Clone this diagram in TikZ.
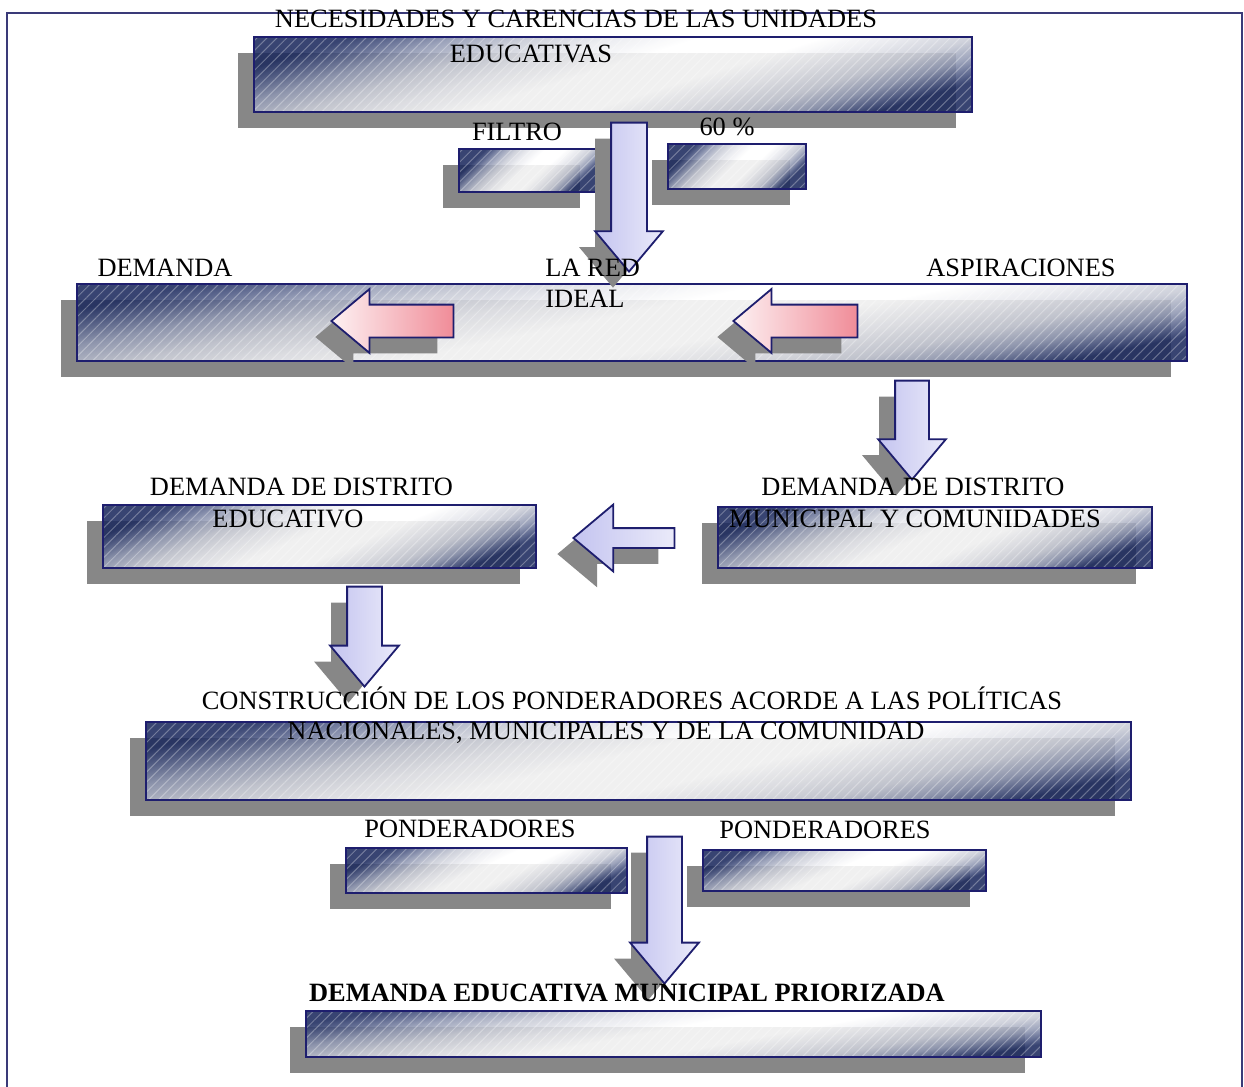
\documentclass[tikz,border=0pt]{standalone}
\usepackage{fontspec}
\setmainfont{Liberation Serif}
\usepackage{tikz}
\usetikzlibrary{shapes.arrows, shadows, patterns.meta, positioning}
\definecolor{boxnavy}{HTML}{1C2A5E}
\definecolor{boxdark}{HTML}{4A5682}
\definecolor{boxmid}{HTML}{8F97B2}
\definecolor{boxlight}{HTML}{C8CBD6}
\definecolor{boxpale}{HTML}{E8E9EE}
\definecolor{boxline}{HTML}{1E1E6E}
\definecolor{framecol}{HTML}{3A3A78}
\definecolor{shadowgray}{HTML}{878787}
\definecolor{arrowlav}{HTML}{C4C4F0}
\definecolor{arrowpink}{HTML}{F08C98}
\pgfdeclarehorizontalshading{boxfill}{100bp}{color(0bp)=(boxnavy); color(25bp)=(boxnavy); color(28bp)=(boxdark); color(32bp)=(boxmid); color(37bp)=(boxlight); color(42bp)=(boxpale); color(48bp)=(white); color(56bp)=(white); color(61bp)=(boxpale); color(66bp)=(boxlight); color(70bp)=(boxmid); color(73bp)=(boxdark); color(75bp)=(boxnavy); color(100bp)=(boxnavy)}
\tikzstyle{shadowed} = [drop shadow={shadow xshift=-8pt, shadow yshift=-8pt, fill=shadowgray, opacity=1}]

\begin{document}
\begin{tikzpicture}[x=0.5pt, y=-0.5pt]
	% Define styles for the boxes, the block arrows and the labels
	\tikzstyle{bar} = [rectangle, shadowed, draw=boxline, line width=1pt, inner sep=0pt, shading=boxfill, fill opacity=0.88, postaction={pattern={Lines[angle=45, distance=3.5pt, line width=0.5pt]}, pattern color=white, opacity=0.3}, postaction={draw=boxline, line width=1pt}]
	\tikzstyle{blockarrow} = [single arrow, shadowed, draw=boxline, line width=0.9pt, single arrow tip angle=80]
	\tikzstyle{bluearrow} = [blockarrow, left color=arrowlav, middle color=white, right color=arrowlav!35!white]
	\tikzstyle{redarrow} = [blockarrow, left color=arrowpink!12!white, middle color=white, right color=arrowpink]
	\tikzstyle{lbl} = [inner sep=0pt, anchor=base, font=\fontsize{13.2}{15.5}\selectfont]
	
	\useasboundingbox (0,0) rectangle (1244,1087);
	
	% Frame
	\draw[framecol, line width=1pt] (7,1100) -- (7,13) -- (1242,13) -- (1242,1100);
	
	% Boxes
	\node[bar, minimum width=359pt, minimum height=37.5pt, shading angle=-72.6] (necesidades) at (613,74.5) {};
	\node[bar, minimum width=68.5pt, minimum height=21.5pt, shading angle=-46.7] (filtro) at (527.5,170.5) {};
	\node[bar, minimum width=69pt, minimum height=22.5pt, shading angle=-45.6] (porcentaje) at (737,166.5) {};
	\node[bar, minimum width=555pt, minimum height=38.5pt, shading angle=-78.2] (redideal) at (632,322.5) {};
	\node[bar, minimum width=216.5pt, minimum height=31.5pt, shading angle=-66.4] (distedu) at (319.5,536.5) {};
	\node[bar, minimum width=217pt, minimum height=30.5pt, shading angle=-67.1] (distmun) at (935,537.5) {};
	\node[bar, minimum width=492.5pt, minimum height=39pt, shading angle=-76.6] (construccion) at (638.5,761) {};
	\node[bar, minimum width=140.5pt, minimum height=22.5pt, shading angle=-64.3] (pondizq) at (486.5,870.5) {};
	\node[bar, minimum width=141.5pt, minimum height=20.5pt, shading angle=-66.5] (ponder) at (844.5,870.5) {};
	\node[bar, minimum width=367.5pt, minimum height=23pt, shading angle=-79.4] (priorizada) at (673.5,1034) {};
	
	% Block arrows
	\node[bluearrow, shape border rotate=270, minimum height=74.5pt, inner sep=8.5pt, single arrow head extend=8pt, anchor=tip] (flnec) at (629,273) {};
	\node[redarrow, shape border rotate=180, minimum height=61pt, inner sep=7.75pt, single arrow head extend=7.75pt, anchor=tip] (fldem) at (330,321) {};
	\node[redarrow, shape border rotate=180, minimum height=62pt, inner sep=7.75pt, single arrow head extend=7.75pt, anchor=tip] (flasp) at (732,321) {};
	\node[bluearrow, shape border rotate=270, minimum height=49.5pt, inner sep=8pt, single arrow head extend=8.5pt, anchor=tip] (flred) at (912,481) {};
	\node[bluearrow, shape border rotate=180, minimum height=50.5pt, inner sep=4.5pt, single arrow head extend=11.75pt, anchor=tip] (flmun) at (572,538) {};
	\node[bluearrow, shape border rotate=270, minimum height=50pt, inner sep=8.25pt, single arrow head extend=8.5pt, anchor=tip] (fledu) at (364.5,688) {};
	\node[bluearrow, shape border rotate=270, minimum height=73.5pt, inner sep=8.25pt, single arrow head extend=8.5pt, anchor=tip] (flpond) at (664.5,985) {};
	
	% Labels
	\node[lbl] (tnec1) at (576,27) {NECESIDADES Y CARENCIAS DE LAS UNIDADES};
	\node[lbl] (tnec2) at (531,62) {EDUCATIVAS};
	\node[lbl] (tfiltro) at (517,140) {FILTRO};
	\node[lbl] (tporc) at (727,135) {60 \%};
	\node[lbl] (tdem) at (165,276) {DEMANDA};
	\node[lbl, anchor=base west] (tred1) at (545,276) {LA RED};
	\node[lbl, anchor=base west] (tred2) at (545,307) {IDEAL};
	\node[lbl] (tasp) at (1021,276) {ASPIRACIONES};
	\node[lbl] (tedu1) at (301.5,495) {DEMANDA DE DISTRITO};
	\node[lbl] (tedu2) at (288,527) {EDUCATIVO};
	\node[lbl] (tmun1) at (913,495) {DEMANDA DE DISTRITO};
	\node[lbl] (tmun2) at (915,527) {MUNICIPAL Y COMUNIDADES};
	\node[lbl] (tcons1) at (632,709) {CONSTRUCCIÓN DE LOS PONDERADORES ACORDE A LAS POLÍTICAS};
	\node[lbl] (tcons2) at (606,739) {NACIONALES, MUNICIPALES Y DE LA COMUNIDAD};
	\node[lbl] (tpond1) at (470,837) {PONDERADORES};
	\node[lbl] (tpond2) at (825,838) {PONDERADORES};
	\node[lbl, font=\fontsize{13.2}{15.5}\selectfont\bfseries] (tprior) at (627,1001) {DEMANDA EDUCATIVA MUNICIPAL PRIORIZADA};
\end{tikzpicture}
\end{document}
